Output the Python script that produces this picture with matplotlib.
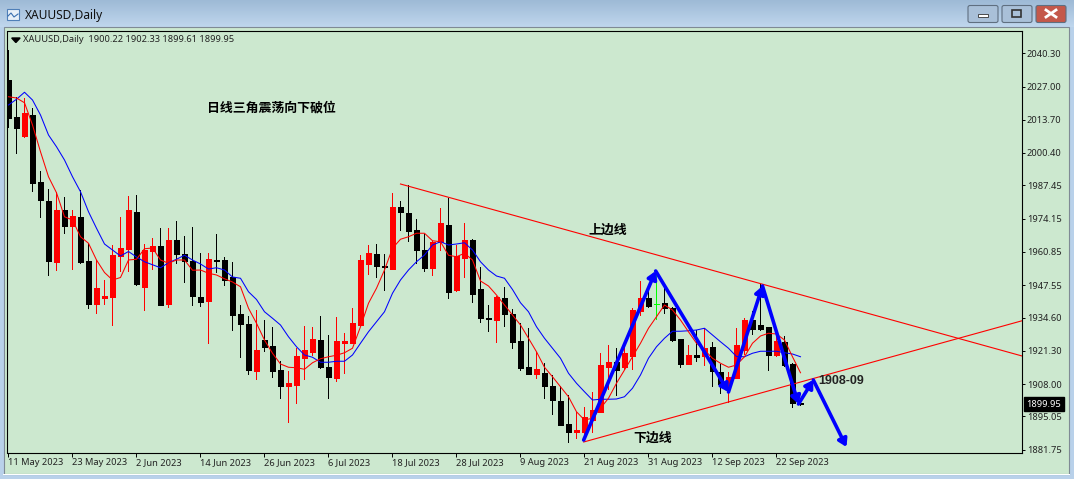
import numpy as np
import matplotlib
matplotlib.use('Agg')
from matplotlib import pyplot as plt
from matplotlib.patches import Rectangle, FancyBboxPatch, Polygon

plt.rcParams['font.family'] = ['Noto Sans', 'DejaVu Sans']

# price values, one per daily bar
opens = [2029.6, 2014.8, 2007.2, 2015.6, 1988.8, 1981.2, 1956.9, 1977.6, 1971.3, 1974.8,
         1957.2, 1940.1, 1942.4, 1942.8, 1959.2, 1962.0, 1976.8, 1946.8, 1961.2, 1963.2,
         1940.0, 1965.6, 1960.0, 1957.2, 1942.8, 1941.2, 1957.6, 1957.6, 1950.8, 1936.0,
         1932.0, 1913.2, 1925.6, 1923.2, 1913.6, 1907.2, 1907.6, 1918.4, 1920.8, 1925.6,
         1914.8, 1910.4, 1924.4, 1924.4, 1931.6, 1956.0, 1960.0, 1955.2, 1954.0, 1978.8,
         1976.4, 1969.6, 1961.6, 1954.4, 1964.7, 1971.6, 1945.6, 1958.4, 1965.6, 1946.0,
         1934.4, 1933.6, 1942.4, 1936.0, 1925.2, 1914.8, 1912.0, 1912.4, 1907.2, 1901.2,
         1892.0, 1888.8, 1888.8, 1893.6, 1896.8, 1914.8, 1916.8, 1914.8, 1919.2, 1937.2,
         1942.4, 1939.9, 1940.4, 1938.4, 1926.0, 1916.0, 1919.6, 1919.2, 1922.8, 1912.8,
         1908.5, 1910.4, 1921.6, 1933.6, 1931.6, 1930.9, 1919.6, 1924.8, 1916.0, 1900.22]
highs = [2041.6, 2022.9, 2022.3, 2018.3, 1993.2, 1986.0, 1984.8, 1982.7, 1977.6, 1985.6,
         1964.3, 1957.6, 1949.6, 1963.6, 1974.8, 1983.2, 1983.6, 1964.0, 1966.4, 1970.4,
         1970.4, 1973.2, 1967.2, 1970.8, 1960.4, 1960.4, 1968.0, 1958.8, 1956.8, 1939.6,
         1935.2, 1937.6, 1933.6, 1930.8, 1917.2, 1913.2, 1922.5, 1931.2, 1930.8, 1935.2,
         1927.6, 1934.8, 1928.4, 1938.4, 1959.6, 1963.6, 1964.0, 1960.0, 1984.4, 1981.2,
         1987.6, 1974.0, 1968.0, 1965.2, 1978.4, 1982.4, 1963.6, 1972.4, 1966.0, 1954.8,
         1939.6, 1943.2, 1946.8, 1938.0, 1932.4, 1930.4, 1920.8, 1916.4, 1911.6, 1907.2,
         1903.6, 1896.8, 1898.9, 1904.9, 1920.4, 1923.6, 1922.4, 1923.6, 1938.4, 1949.2,
         1946.9, 1951.6, 1946.9, 1938.9, 1926.0, 1923.6, 1929.6, 1930.3, 1924.8, 1916.0,
         1912.9, 1930.4, 1934.4, 1937.2, 1948.0, 1931.0, 1929.0, 1927.2, 1916.5, 1902.33]
lows = [2010.9, 2000.5, 2006.9, 1985.3, 1974.9, 1951.7, 1953.6, 1968.5, 1954.0, 1956.5,
        1938.5, 1936.5, 1940.0, 1931.6, 1953.3, 1953.3, 1947.6, 1937.6, 1954.0, 1939.6,
        1938.8, 1956.4, 1948.8, 1939.6, 1939.2, 1924.4, 1952.8, 1947.6, 1929.6, 1918.8,
        1912.0, 1910.0, 1921.2, 1910.8, 1902.4, 1892.9, 1900.4, 1910.0, 1919.5, 1914.4,
        1902.4, 1909.2, 1912.4, 1924.4, 1931.6, 1952.0, 1950.8, 1945.6, 1954.0, 1969.6,
        1965.2, 1956.4, 1953.2, 1951.6, 1961.6, 1942.4, 1945.2, 1950.8, 1940.8, 1932.8,
        1929.2, 1924.8, 1931.2, 1922.4, 1913.6, 1912.0, 1910.4, 1902.4, 1896.0, 1891.6,
        1884.8, 1886.4, 1886.0, 1888.9, 1896.8, 1906.0, 1903.6, 1914.0, 1914.0, 1935.6,
        1938.8, 1934.0, 1936.4, 1925.2, 1914.8, 1916.0, 1917.2, 1915.6, 1907.2, 1904.3,
        1900.7, 1910.4, 1920.0, 1928.0, 1929.5, 1913.6, 1919.2, 1915.2, 1898.9, 1899.61]
closes = [2014.5, 2010.5, 2016.4, 1988.5, 1981.7, 1957.3, 1977.6, 1971.3, 1975.2, 1956.8,
          1940.1, 1946.4, 1943.2, 1959.6, 1962.4, 1977.6, 1948.0, 1961.6, 1963.2, 1939.6,
          1965.6, 1960.0, 1957.2, 1943.2, 1940.8, 1958.0, 1957.2, 1949.6, 1935.6, 1932.0,
          1913.6, 1921.6, 1922.8, 1913.2, 1907.2, 1908.4, 1919.2, 1921.6, 1926.0, 1914.8,
          1910.8, 1925.2, 1925.2, 1932.4, 1957.6, 1960.4, 1955.2, 1954.8, 1978.8, 1976.8,
          1969.2, 1961.6, 1954.4, 1964.8, 1972.4, 1944.8, 1959.2, 1965.6, 1944.0, 1934.4,
          1934.0, 1942.8, 1936.0, 1924.8, 1914.4, 1912.0, 1914.0, 1907.2, 1901.6, 1891.6,
          1888.8, 1889.6, 1894.8, 1897.6, 1915.6, 1916.8, 1913.6, 1920.4, 1937.6, 1942.4,
          1939.2, 1939.9, 1938.4, 1925.6, 1916.0, 1919.6, 1919.0, 1922.3, 1913.3, 1908.0,
          1910.8, 1923.6, 1933.6, 1930.0, 1930.0, 1919.6, 1925.2, 1915.6, 1900.3, 1899.95]

ma_red = [2022.9, 2022.4, 2020.5, 2011.6, 2000.9, 1990.9, 1984.5, 1974.9, 1973.6, 1966.9,
          1964.3, 1957.6, 1952.6, 1949.6, 1950.6, 1957.6, 1957.9, 1962.1, 1962.4, 1957.6,
          1956.3, 1957.6, 1957.6, 1953.5, 1953.6, 1952.3, 1951.6, 1950.1, 1948.8, 1946.9,
          1938.3, 1932.3, 1925.6, 1920.3, 1916.0, 1914.7, 1914.5, 1913.9, 1916.5, 1918.1,
          1918.9, 1919.5, 1920.5, 1922.3, 1930.9, 1940.3, 1946.3, 1953.6, 1962.3, 1965.9,
          1966.9, 1968.3, 1968.3, 1965.3, 1964.9, 1959.5, 1958.9, 1960.3, 1957.6, 1949.2,
          1947.2, 1943.6, 1939.6, 1935.6, 1931.6, 1926.3, 1920.9, 1914.7, 1910.9, 1906.9,
          1902.9, 1896.9, 1893.6, 1894.3, 1898.3, 1902.3, 1908.3, 1913.6, 1918.9, 1924.3,
          1930.3, 1934.9, 1939.6, 1937.6, 1933.6, 1928.9, 1924.3, 1921.6, 1918.3, 1916.3,
          1914.7, 1915.6, 1918.9, 1924.3, 1927.2, 1928.3, 1928.0, 1925.6, 1918.9, 1912.5]
ma_blue = [2019.6, 2021.9, 2024.7, 2021.6, 2015.6, 2007.6, 2002.9, 1997.6, 1990.9, 1984.9,
           1976.9, 1970.3, 1964.0, 1961.6, 1959.2, 1961.0, 1958.8, 1956.9, 1955.7, 1954.5,
           1956.5, 1957.9, 1959.5, 1957.6, 1956.0, 1954.0, 1954.5, 1953.6, 1950.8, 1950.3,
           1944.9, 1941.8, 1936.9, 1934.3, 1931.6, 1926.9, 1922.9, 1919.6, 1918.7, 1916.7,
           1916.7, 1917.1, 1917.1, 1919.6, 1924.3, 1928.9, 1932.9, 1936.9, 1944.3, 1949.6,
           1953.6, 1956.9, 1959.6, 1963.6, 1964.9, 1963.6, 1964.0, 1964.5, 1961.6, 1956.9,
           1953.6, 1951.2, 1950.3, 1945.8, 1940.5, 1936.9, 1930.9, 1926.3, 1922.3, 1918.3,
           1912.3, 1908.3, 1904.9, 1901.6, 1901.9, 1901.9, 1902.0, 1902.9, 1906.3, 1911.6,
           1918.3, 1922.9, 1926.3, 1929.1, 1929.1, 1929.3, 1929.6, 1930.3, 1927.6, 1924.9,
           1922.3, 1919.0, 1918.9, 1920.3, 1921.1, 1921.1, 1921.1, 1920.5, 1920.0, 1918.9]

# tick labels
date_ticks = [0, 8, 16, 24, 32, 40, 48, 56, 64, 72, 80, 88, 96]
date_labels = ['11 May 2023', '23 May 2023', '2 Jun 2023', '14 Jun 2023', '26 Jun 2023',
               '6 Jul 2023', '18 Jul 2023', '28 Jul 2023', '9 Aug 2023', '21 Aug 2023',
               '31 Aug 2023', '12 Sep 2023', '22 Sep 2023']
price_ticks = [2040.30, 2027.00, 2013.70, 2000.40, 1987.45, 1974.15, 1960.85, 1947.55,
               1934.60, 1921.30, 1908.00, 1895.05, 1881.75]

# hand drawn lines on the chart (bar number, price)
upper_x = [49, 126.7]
upper_y = [1988.0, 1919.2]
lower_x = [71.9, 126.7]
lower_y = [1884.8, 1933.3]
wave_x = [71.9, 80.9, 90.0, 94.25, 98.75, 100.6, 104.75]
wave_y = [1885.6, 1953.2, 1904.8, 1947.2, 1900.0, 1909.6, 1882.8]

W, H = 1074, 479
BG = '#cce8cf'
fig = plt.figure(figsize=(W / 100, H / 100), dpi=100)

# window around the chart, in pixels
chrome = fig.add_axes([0, 0, 1, 1], zorder=0)
chrome.axis('off')
grad = np.linspace(0, 1, 30).reshape(-1, 1, 1)
col = np.array([0.62, 0.73, 0.84]) * (1 - grad) + np.array([0.75, 0.84, 0.93]) * grad
chrome.imshow(col, extent=[0, W, 27, 0], aspect='auto')
chrome.add_patch(Rectangle((0, 27), W, H - 27, color='#b9d1ea', lw=0))
chrome.add_patch(Rectangle((4, 27), 1065, 447, facecolor=BG, edgecolor='#7f8a95', lw=0.8))
chrome.add_patch(Rectangle((3, 473.5), 1067, 1.5, color='white', lw=0))
chrome.set_xlim(0, W)
chrome.set_ylim(H, 0)

for x0, c in [(967, '#a9c0d8'), (1001, '#a9c0d8'), (1035, '#c4584a')]:
    chrome.add_patch(FancyBboxPatch((x0 + 1, 5.5), 30, 17, boxstyle='round,pad=0,rounding_size=2',
                                    facecolor=c, edgecolor='#5f6f80', lw=0.8))
chrome.add_patch(Rectangle((978, 14), 10, 3, facecolor='white', edgecolor='#333333', lw=0.6))
chrome.add_patch(Rectangle((1012, 10), 9, 7, facecolor='none', edgecolor='#333333', lw=1.2))
chrome.plot([1046, 1056], [10, 17], color='white', lw=2)
chrome.plot([1046, 1056], [17, 10], color='white', lw=2)
# little window icon
chrome.add_patch(Rectangle((7, 9), 12, 11, facecolor='#e8f0f8', edgecolor='#4f7fb8', lw=0.8))
chrome.plot([8, 11, 14, 18], [16, 13, 17, 14], color='#3a6fb0', lw=0.8)

fig.text(25 / W, 1 - 15 / H, 'XAUUSD,Daily', fontsize=8.6, color='#111111', va='center')

# chart
ax = fig.add_axes([7.5 / W, 1 - 452.5 / H, (1022 - 7.5) / W, (452.5 - 30.5) / H],
                  zorder=1, facecolor=BG)
ax.set_xlim(-0.125, 126.69)
ax.set_ylim(1880.6, 2049.4)

o = np.array(opens)
h = np.array(highs)
l = np.array(lows)
c = np.array(closes)
x = np.arange(len(o))
colors = np.where(c > o, '#ff0000', '#000000')
colors[o == c] = '#00ff00'

ax.vlines(x, l, h, colors=colors, lw=0.6, antialiased=False, zorder=2)
ax.bar(x, np.abs(c - o), bottom=np.minimum(o, c), width=0.56, color=colors, edgecolor=colors,
       linewidth=0.6, antialiased=False, zorder=3)

ax.plot(x, ma_blue, color='#0000ff', lw=0.75, zorder=4)
ax.plot(x, ma_red, color='#ff0000', lw=0.75, zorder=4)

ax.plot(upper_x, upper_y, color='#ff0000', lw=0.8, zorder=5)
ax.plot(lower_x, lower_y, color='#ff0000', lw=0.8, zorder=5)

for i in range(len(wave_x) - 1):
    ax.annotate('', xy=(wave_x[i + 1], wave_y[i + 1]), xytext=(wave_x[i], wave_y[i]),
                arrowprops=dict(arrowstyle='-|>,head_length=0.45,head_width=0.28', color='#0000ff',
                                lw=2.6, shrinkA=0, shrinkB=0), zorder=6)

cjk = ['Noto Sans CJK SC', 'DejaVu Sans']
ax.text(24.8, 2018.8, '日线三角震荡向下破位', family=cjk, fontsize=9.3, fontweight='bold',
        va='center', zorder=7)
ax.text(72.5, 1969.6, '上边线', family=cjk, fontsize=9.3, fontweight='bold', va='center', zorder=7)
ax.text(78.1, 1886.6, '下边线', family=cjk, fontsize=9.3, fontweight='bold', va='center', zorder=7)
ax.text(101.2, 1909.2, '1908-09', family=['Liberation Sans', 'DejaVu Sans'], fontsize=9,
        fontweight='bold', color='#222222', va='center', zorder=7)

ax.text(15.5 / 1014.5, 1 - 8.6 / 422, 'XAUUSD,Daily  1900.22 1902.33 1899.61 1899.95',
        transform=ax.transAxes, fontsize=6.7, color='#222222', va='center', zorder=7)
ax.add_patch(Polygon([[0.4, 2046.4], [1.45, 2046.4], [0.92, 2044.6]], color='black', zorder=7))

for s in ax.spines.values():
    s.set_linewidth(0.8)
    s.set_color('black')

ax.set_xticks(date_ticks)
ax.set_xticklabels(date_labels, ha='left', fontsize=6.7, color='#222222')
ax.yaxis.tick_right()
ax.set_yticks(price_ticks)
ax.set_yticklabels(['%.2f' % p for p in price_ticks], fontsize=6.7, color='#222222')
ax.tick_params(axis='x', length=3, width=0.7, pad=1, color='black')
ax.tick_params(axis='y', length=2.5, width=0.7, pad=1, color='black')

# last price tag
ax.annotate('1899.95', xy=(1.0, closes[-1]), xycoords=('axes fraction', 'data'),
            xytext=(3.2, 0), textcoords='offset points', fontsize=6.7, color='white', va='center',
            annotation_clip=False,
            bbox=dict(boxstyle='square,pad=0.25', facecolor='black', edgecolor='black'))

fig.savefig('out.png', dpi=100)
